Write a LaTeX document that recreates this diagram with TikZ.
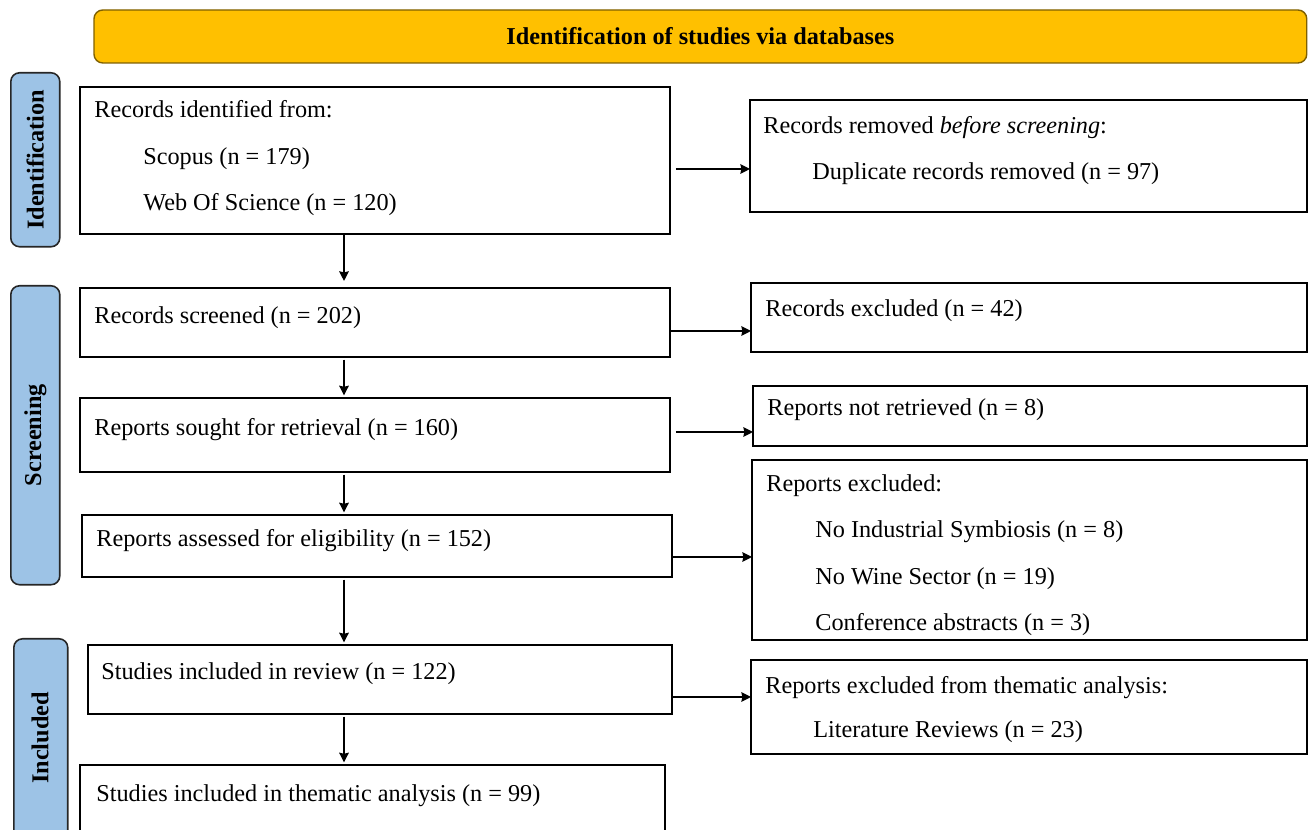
\documentclass[tikz,border=0pt]{standalone}
\usepackage{fontspec}
\setmainfont{Liberation Serif}
\usepackage{tikz}
\usetikzlibrary{arrows.meta}

\definecolor{headfill}{HTML}{FFC000}
\definecolor{headline}{HTML}{7F6000}
\definecolor{stagefill}{HTML}{9DC3E6}

\begin{document}
\begin{tikzpicture}[x = 0.02cm, y = -0.02cm,
	box/.style = {draw, line width = 0.8pt, anchor = north west, inner sep = 0pt, outer sep = 0pt},
	txt/.style = {anchor = base west, inner sep = 0pt, font = \fontsize{13.8}{16}\selectfont},
	stage/.style = {draw = black!85, fill = stagefill, rounded corners = 5pt, line width = 0.9pt, anchor = north west, inner sep = 0pt},
	stagetxt/.style = {rotate = 90, inner sep = 0pt, font = \fontsize{13.8}{16}\selectfont\bfseries}]
						\useasboundingbox (0,0) rectangle (1308,830);
						\clip (0,0) rectangle (1308,830);

						\node [box, draw = headline, fill = headfill, rounded corners = 5pt, minimum width = 24.26cm, minimum height = 1.06cm, font = \fontsize{13.8}{16}\selectfont\bfseries] (header) at (94,10) {Identification of studies via databases};

						\begin{scope}
							\node [stage, minimum width = 0.98cm, minimum height = 3.48cm] (identside) at (10,72) {};
							\node [stagetxt] (identlabel) at (identside.center) {Identification};
							\node [stage, minimum width = 0.98cm, minimum height = 5.98cm] (screenside) at (10,285) {};
							\node [stagetxt] (screenlabel) at (screenside.center) {Screening};
							\node [stage, minimum width = 1.08cm, minimum height = 4.4cm] (inclside) at (13,638) {};
							\node [stagetxt] (incllabel) at (40,738) {Included};
						\end{scope}

						\begin{scope}
							\node [box, minimum width = 11.8cm, minimum height = 2.94cm] (idbox) at (80,87) {};
							\node [box, minimum width = 11.8cm, minimum height = 1.38cm] (screened) at (80,288) {};
							\node [box, minimum width = 11.8cm, minimum height = 1.48cm] (sought) at (80,398) {};
							\node [box, minimum width = 11.8cm, minimum height = 1.24cm] (assessed) at (82,515) {};
							\node [box, minimum width = 11.68cm, minimum height = 1.38cm] (included) at (88,645) {};
							\node [box, minimum width = 11.7cm, minimum height = 1.6cm] (thematic) at (80,765) {};

							\node [box, minimum width = 11.14cm, minimum height = 2.24cm] (removed) at (750,100) {};
							\node [box, minimum width = 11.12cm, minimum height = 1.38cm] (excluded) at (751,283) {};
							\node [box, minimum width = 11.08cm, minimum height = 1.2cm] (notretr) at (753,386) {};
							\node [box, minimum width = 11.1cm, minimum height = 3.6cm] (repexcl) at (752,460) {};
							\node [box, minimum width = 11.12cm, minimum height = 1.88cm] (thexcl) at (751,660) {};
						\end{scope}

						\begin{scope}
							\node [txt] (idfrom) at (94,118) {Records identified from:};
							\node [txt] (idscopus) at (143,165) {Scopus (n = 179)};
							\node [txt] (idwos) at (143,211) {Web Of Science (n = 120)};
							\node [txt] (remhead) at (763,134) {Records removed \emph{before screening}:};
							\node [txt] (remdup) at (812,180) {Duplicate records removed (n = 97)};
							\node [txt] (scrtext) at (94,324) {Records screened (n = 202)};
							\node [txt] (exctext) at (765,317) {Records excluded (n = 42)};
							\node [txt] (sghtext) at (94,436) {Reports sought for retrieval (n = 160)};
							\node [txt] (nrttext) at (767,416) {Reports not retrieved (n = 8)};
							\node [txt] (asstext) at (96,547) {Reports assessed for eligibility (n = 152)};
							\node [txt] (rexhead) at (766,492) {Reports excluded:};
							\node [txt] (rexsym) at (815,538) {No Industrial Symbiosis (n = 8)};
							\node [txt] (rexwine) at (815,585) {No Wine Sector (n = 19)};
							\node [txt] (rexconf) at (815,631) {Conference abstracts (n = 3)};
							\node [txt] (inctext) at (101,680) {Studies included in review (n = 122)};
							\node [txt] (thxhead) at (765,693) {Reports excluded from thematic analysis:};
							\node [txt] (thxlit) at (813,737) {Literature Reviews (n = 23)};
							\node [txt] (thmtext) at (96,801) {Studies included in thematic analysis (n = 99)};
						\end{scope}

						\coordinate (spine) at (344,0);
						\begin{scope}[-{Stealth[length = 5.5pt, width = 5.5pt, inset = 0.6pt]}, line width = 0.8pt]
							\draw ([xshift = 0.12cm, yshift = -0.17cm]idbox.east) -- ([yshift = -0.17cm]idbox.east -| removed.west);
							\draw ([yshift = -0.17cm]screened.east) -- ([yshift = -0.17cm]screened.east -| excluded.west);
							\draw ([xshift = 0.12cm, yshift = 0.06cm]sought.east) -- ([yshift = 0.06cm]sought.east -| notretr.west);
							\draw ([yshift = -0.22cm]assessed.east) -- ([yshift = -0.22cm]assessed.east -| repexcl.west);
							\draw ([yshift = -0.35cm]included.east) -- ([yshift = -0.35cm]included.east -| thexcl.west);

							\draw [shorten > = 4pt] (idbox.south -| spine) -- (screened.north -| spine);
							\draw [shorten < = 1.5pt, shorten > = 1.5pt] (screened.south -| spine) -- (sought.north -| spine);
							\draw [shorten < = 1.5pt, shorten > = 1.5pt] (sought.south -| spine) -- (assessed.north -| spine);
							\draw [shorten < = 1.5pt, shorten > = 1.5pt] (assessed.south -| spine) -- (included.north -| spine);
							\draw [shorten < = 1.5pt, shorten > = 1.5pt] (included.south -| spine) -- (thematic.north -| spine);
						\end{scope}
					\end{tikzpicture}
\end{document}
